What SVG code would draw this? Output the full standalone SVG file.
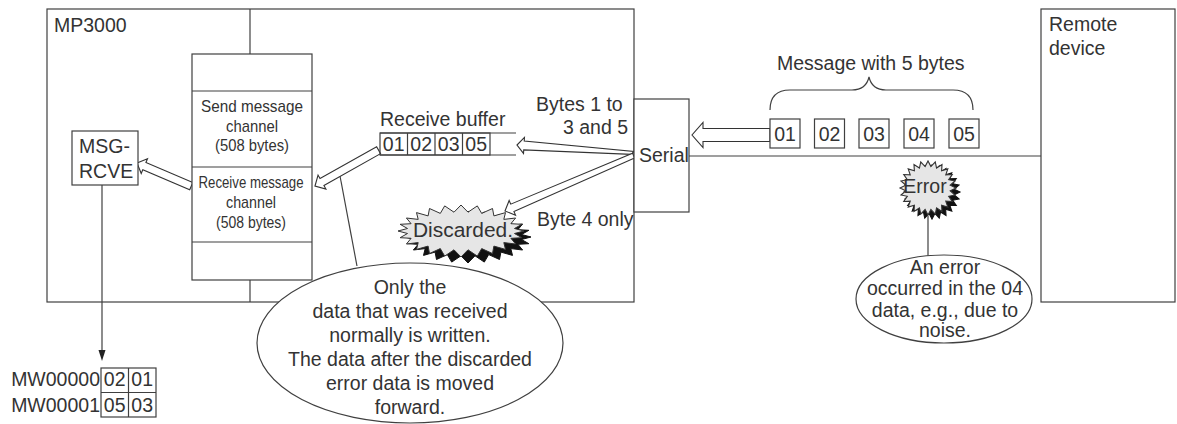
<svg xmlns="http://www.w3.org/2000/svg" width="1177" height="424" viewBox="0 0 1177 424">
<style>
.ln{stroke:#404040;stroke-width:1.2;fill:none}
.bx{stroke:#404040;stroke-width:1.2;fill:#fff}
.t{font-family:"Liberation Sans",Arial,sans-serif;font-size:19.5px;fill:#333}
.ch{font-size:17px}
.c{text-anchor:middle}
.e{text-anchor:end}
.ha{fill:#fff;stroke:#333;stroke-width:1.1;stroke-linejoin:miter}
.star{fill:#e6e6e6;stroke:#333;stroke-width:1}
.shadow{fill:#111;stroke:#111;stroke-width:1}
</style>
<defs>
<polygon id="ustar" points="1,0 .793,.104 .966,.259 .739,.306 .866,.5 .635,.487 .707,.707 .487,.635 .5,.866 .306,.739 .259,.966 .104,.793 0,1 -.104,.793 -.259,.966 -.306,.739 -.5,.866 -.487,.635 -.707,.707 -.635,.487 -.866,.5 -.739,.306 -.966,.259 -.793,.104 -1,0 -.793,-.104 -.966,-.259 -.739,-.306 -.866,-.5 -.635,-.487 -.707,-.707 -.487,-.635 -.5,-.866 -.306,-.739 -.259,-.966 -.104,-.793 0,-1 .104,-.793 .259,-.966 .306,-.739 .5,-.866 .487,-.635 .707,-.707 .635,-.487 .866,-.5 .739,-.306 .966,-.259 .793,-.104"/>
<polygon id="dstar" points="524,231 514.5,233.5 521.9,237.7 510.9,238.3 515.6,244 503.8,242.6 505.5,249.4 493.9,246.1 492.5,253.5 481.7,248.6 477.3,256.1 468,249.8 461,257 454,249.8 444.7,256.1 440.3,248.6 429.5,253.5 428.1,246.1 416.5,249.4 418.2,242.6 406.4,244 411.1,238.3 400.1,237.7 407.5,233.5 398,231 407.5,228.5 400.1,224.3 411.1,223.7 406.4,218 418.2,219.4 416.5,212.6 428.1,215.9 429.5,208.5 440.3,213.4 444.7,205.9 454,212.2 461,205 468,212.2 477.3,205.9 481.7,213.4 492.5,208.5 493.9,215.9 505.5,212.6 503.8,219.4 515.6,218 510.9,223.7 521.9,224.3 514.5,228.5"/>
</defs>

<g id="mp3000">
<rect class="ln" x="47" y="9" width="587" height="293"/>
<text class="t" x="54" y="32">MP3000</text>
</g>

<g id="remote-device">
<rect class="bx" x="1041" y="9" width="134" height="293"/>
<text class="t" x="1049" y="30.5">Remote</text>
<text class="t" x="1049" y="55">device</text>
</g>

<g id="connectors">
<line class="ln" x1="250" y1="9" x2="250" y2="54"/>
<line class="ln" x1="250" y1="280" x2="250" y2="302"/>
<line class="ln" x1="689" y1="156" x2="1041" y2="156"/>
<line class="ln" x1="102" y1="185" x2="102" y2="352"/>
<polygon points="98.5,350 105.5,350 102,361" fill="#222"/>
<line class="ln" x1="928" y1="216" x2="928" y2="256"/>
<line class="ln" x1="340" y1="176" x2="357" y2="266"/>
<polygon class="ha" points="770,128.5 703,128.5 703,122.5 692,135 703,147.5 703,141.5 770,141.5"/>
<polygon class="ha" transform="translate(517,145) rotate(3.4)" points="0,0 7,-8 7,-4.5 117,-0.5 115,2.5 7,4.5 7,8"/>
<polygon class="ha" transform="translate(505,211) rotate(-23.5)" points="0,0 8,-8 8,-4 140,-2 140,3 8,4 8,8"/>
<polygon class="ha" transform="translate(315,186) rotate(-29.4)" points="0,0 8,-8 8,-4 73,-4 73,4 8,4 8,8"/>
<polygon class="ha" transform="translate(137,163) rotate(23.1)" points="0,0 8,-8 8,-4 59,-4 59,4 8,4 8,8"/>
</g>

<g id="channel">
<rect class="bx" x="192" y="54" width="120" height="226"/>
<line class="ln" x1="192" y1="91" x2="312" y2="91"/>
<line class="ln" x1="192" y1="167" x2="312" y2="167"/>
<line class="ln" x1="192" y1="242" x2="312" y2="242"/>
<text class="t ch c" x="252" y="112" textLength="102" lengthAdjust="spacingAndGlyphs">Send message</text>
<text class="t ch c" x="252" y="132" textLength="52" lengthAdjust="spacingAndGlyphs">channel</text>
<text class="t ch c" x="252" y="151" textLength="74" lengthAdjust="spacingAndGlyphs">(508 bytes)</text>
<text class="t ch c" x="251" y="188" textLength="105" lengthAdjust="spacingAndGlyphs">Receive message</text>
<text class="t ch c" x="251" y="208" textLength="50" lengthAdjust="spacingAndGlyphs">channel</text>
<text class="t ch c" x="251" y="228" textLength="70" lengthAdjust="spacingAndGlyphs">(508 bytes)</text>
</g>

<g id="msg-rcve">
<rect class="bx" x="72" y="131" width="66" height="54"/>
<text class="t" x="79" y="153">MSG-</text>
<text class="t" x="79" y="178">RCVE</text>
</g>

<g id="mw-table">
<text class="t e" x="100" y="386">MW00000</text>
<text class="t e" x="100" y="411.5">MW00001</text>
<rect class="bx" x="101" y="368" width="55" height="49"/>
<line class="ln" x1="128.5" y1="368" x2="128.5" y2="417"/>
<line class="ln" x1="101" y1="392.5" x2="156" y2="392.5"/>
<text class="t c" x="114.7" y="386">02</text>
<text class="t c" x="142.2" y="386">01</text>
<text class="t c" x="114.7" y="411.5">05</text>
<text class="t c" x="142.2" y="411.5">03</text>
</g>

<g id="receive-buffer">
<text class="t" x="380" y="125.5">Receive buffer</text>
<line class="ln" x1="380" y1="133" x2="516" y2="133"/>
<line class="ln" x1="380" y1="155" x2="516" y2="155"/>
<rect class="ln" x="380" y="133" width="110" height="22"/>
<line class="ln" x1="407.5" y1="133" x2="407.5" y2="155"/>
<line class="ln" x1="435" y1="133" x2="435" y2="155"/>
<line class="ln" x1="462.5" y1="133" x2="462.5" y2="155"/>
<text class="t c" x="393.7" y="151">01</text>
<text class="t c" x="421.2" y="151">02</text>
<text class="t c" x="448.7" y="151">03</text>
<text class="t c" x="476.2" y="151">05</text>
</g>

<g id="labels">
<text class="t" x="536" y="110.7">Bytes 1 to</text>
<text class="t" x="563" y="134">3 and 5</text>
<text class="t" x="537" y="226">Byte 4 only</text>
</g>

<g id="serial">
<rect class="bx" x="634" y="99" width="55" height="113"/>
<text class="t" x="639" y="162">Serial</text>
</g>

<g id="message">
<path class="ln" d="M770,110 Q770,90 790,90 L852,90 Q866,90 869,77 Q872,90 886,90 L953,90 Q973,90 973,110"/>
<text class="t" x="777" y="70">Message with 5 bytes</text>
<rect class="bx" x="770" y="119" width="30" height="29"/>
<rect class="bx" x="814.5" y="119" width="30" height="29"/>
<rect class="bx" x="859" y="119" width="30" height="29"/>
<rect class="bx" x="904" y="119" width="30" height="29"/>
<rect class="bx" x="949" y="119" width="30" height="29"/>
<text class="t c" x="785" y="141">01</text>
<text class="t c" x="829.5" y="141">02</text>
<text class="t c" x="874" y="141">03</text>
<text class="t c" x="919" y="141">04</text>
<text class="t c" x="964" y="141">05</text>
</g>

<g id="discarded">
<use href="#dstar" class="shadow" transform="translate(7,6)"/>
<use href="#dstar" class="star"/>
<text class="t" x="413" y="237" style="font-size:20.5px" textLength="100" lengthAdjust="spacingAndGlyphs">Discarded.</text>
</g>

<g id="error">
<use href="#ustar" class="shadow" transform="translate(932,192) scale(28,27)" style="stroke-width:0.04"/>
<use href="#ustar" class="star" transform="translate(928,188) scale(28,27)" style="stroke-width:0.04"/>
<text class="t c" x="925" y="193">Error</text>
</g>

<g id="note-written">
<ellipse class="bx" cx="410" cy="343" rx="153" ry="80"/>
<text class="t c" x="410" y="294">Only the</text>
<text class="t c" x="410" y="318">data that was received</text>
<text class="t c" x="410" y="342">normally is written.</text>
<text class="t c" x="410" y="366">The data after the discarded</text>
<text class="t c" x="410" y="390">error data is moved</text>
<text class="t c" x="410" y="414">forward.</text>
</g>

<g id="note-error">
<ellipse class="bx" cx="944" cy="299" rx="88" ry="44"/>
<text class="t c" x="945" y="273.5">An error</text>
<text class="t c" x="945" y="295">occurred in the 04</text>
<text class="t c" x="945" y="316.5">data, e.g., due to</text>
<text class="t c" x="945" y="337">noise.</text>
</g>
</svg>
